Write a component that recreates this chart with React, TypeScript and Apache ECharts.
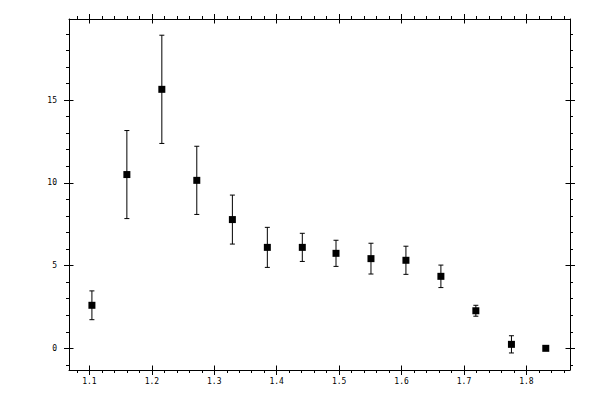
import React, { useEffect, useRef } from 'react';
import * as echarts from 'echarts';

// 数据点 (x, y, 误差)
const xValues = [1.104, 1.160, 1.216, 1.272, 1.329, 1.385, 1.441, 1.495, 1.551, 1.607, 1.663, 1.719, 1.776, 1.831];
const yValues = [2.6, 10.5, 15.65, 10.15, 7.78, 6.1, 6.1, 5.74, 5.42, 5.32, 4.35, 2.27, 0.24, 0];
const yErrors = [0.87, 2.66, 3.27, 2.06, 1.48, 1.21, 0.85, 0.79, 0.93, 0.85, 0.68, 0.33, 0.52, 0];

// 刻度
const xTickLabels = [1.1, 1.2, 1.3, 1.4, 1.5, 1.6, 1.7, 1.8];
const yTickLabels = [0, 5, 10, 15];

const X_MIN = 1.0673;
const X_MAX = 1.8698;
const Y_MIN = -1.31;
const Y_MAX = 19.9;

function minorTicks(from: number, to: number, step: number) {
  const result: number[] = [];
  for (let v = from; v <= to + 1e-9; v += step) {
    result.push(Math.round(v * 1000) / 1000);
  }
  return result;
}

const xMinor = minorTicks(1.08, 1.86, 0.02);
const yMinor = minorTicks(-1, 19, 1);

const labelFont = { fontFamily: 'DejaVu Sans Mono', fontSize: 8, color: '#000' };

function makeAxes(kind: 'x' | 'y') {
  const isX = kind === 'x';
  const min = isX ? X_MIN : Y_MIN;
  const max = isX ? X_MAX : Y_MAX;
  const major = isX ? xTickLabels : yTickLabels;
  const minor = isX ? xMinor : yMinor;
  const sides = isX ? ['bottom', 'top'] : ['left', 'right'];
  const axes: any[] = [];
  sides.forEach((pos, i) => {
    // 轴线 + 次刻度 + 标签
    axes.push({
      type: 'value',
      position: pos,
      min,
      max,
      axisLine: { show: true, onZero: false, lineStyle: { color: '#000', width: 1 } },
      axisTick: { show: true, inside: false, length: 3, customValues: minor, lineStyle: { color: '#000', width: 1 } },
      axisLabel: i === 0
        ? { show: true, customValues: major, margin: isX ? 7 : 12, ...labelFont }
        : { show: false },
      splitLine: { show: false },
    });
    // 主刻度（穿过轴线）
    axes.push({
      type: 'value',
      position: pos,
      offset: -4.5,
      min,
      max,
      axisLine: { show: false, onZero: false },
      axisTick: { show: true, inside: false, length: 9.5, customValues: major, lineStyle: { color: '#000', width: 1 } },
      axisLabel: { show: false },
      splitLine: { show: false },
    });
  });
  return axes;
}

const App: React.FC = () => {
  const chartRef = useRef<HTMLDivElement>(null);

  useEffect(() => {
    if (!chartRef.current) return;
    document.body.style.margin = '0';
    const chart = echarts.init(chartRef.current, undefined, { renderer: 'svg' });

    const points = xValues.map((x, i) => [x, yValues[i], yErrors[i]]);

    chart.setOption({
      animation: false,
      backgroundColor: '#fff',
      grid: { left: 69, top: 19, width: 501, height: 351, containLabel: false },
      xAxis: makeAxes('x'),
      yAxis: makeAxes('y'),
      series: [
        {
          type: 'custom',
          xAxisIndex: 0,
          yAxisIndex: 0,
          data: points,
          renderItem: (params: any, api: any) => {
            const x = api.value(0);
            const y = api.value(1);
            const e = api.value(2);
            if (!e) return { type: 'group', children: [] };
            const top = api.coord([x, y + e]);
            const bot = api.coord([x, y - e]);
            const hw = 2.5;
            const style = { stroke: '#000', lineWidth: 1 };
            return {
              type: 'group',
              children: [
                { type: 'line', shape: { x1: top[0], y1: top[1], x2: bot[0], y2: bot[1] }, style },
                { type: 'line', shape: { x1: top[0] - hw, y1: top[1], x2: top[0] + hw, y2: top[1] }, style },
                { type: 'line', shape: { x1: bot[0] - hw, y1: bot[1], x2: bot[0] + hw, y2: bot[1] }, style },
              ],
            };
          },
          z: 2,
        },
        {
          type: 'scatter',
          xAxisIndex: 0,
          yAxisIndex: 0,
          data: points.map(p => [p[0], p[1]]),
          symbol: 'rect',
          symbolSize: 7,
          itemStyle: { color: '#000', opacity: 1 },
          z: 3,
        },
      ],
    });

    return () => {
      chart.dispose();
    };
  }, []);

  return <div ref={chartRef} style={{ width: '600px', height: '400px' }} />;
};

export default App;
